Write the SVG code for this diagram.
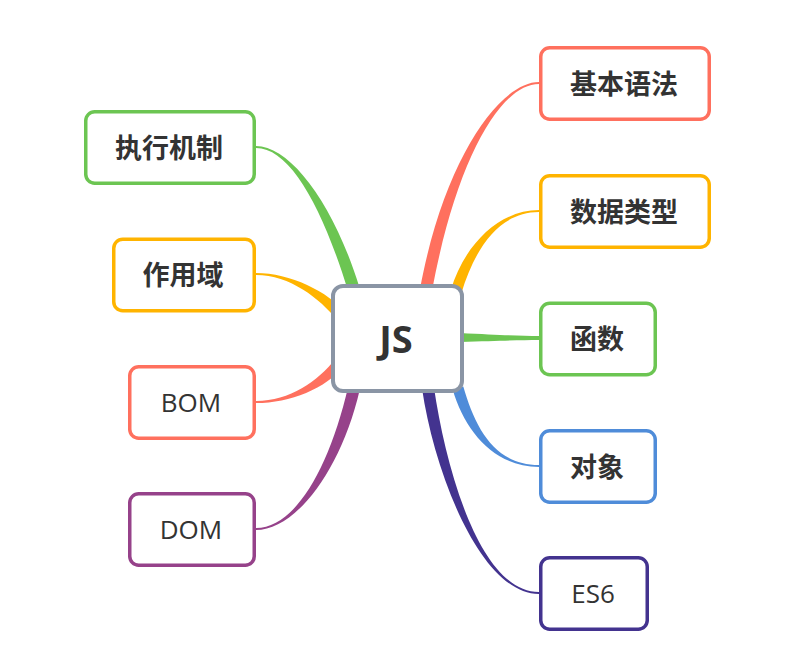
<svg xmlns="http://www.w3.org/2000/svg" width="794" height="656" viewBox="0 0 794 656">
<style>
.box{fill:#fff;stroke-width:3.5}
.zh{font-family:"Noto Sans CJK SC","Open Sans",sans-serif;font-size:27px;font-weight:bold;fill:#333;text-anchor:middle}
.en{font-family:"Open Sans","Liberation Sans",sans-serif;font-size:26px;fill:#333;text-anchor:middle}
.red{stroke:#FF705E}.orange{stroke:#FFB400}.green{stroke:#6CC552}.blue{stroke:#4F8CD9}.navy{stroke:#43338F}.purple{stroke:#96428A}
</style>
<rect width="794" height="656" fill="#fff"/>
<g id="connectors">
<path fill="#FF705E" d="M539,82 C500,82 444,159 420,289 L432,291 C456,161 500,84 539,84 Z"/>
<path fill="#FFB400" d="M539,210 C500,210 464.7,243.4 450.7,290.4 L461.3,293.6 C475.3,246.6 500,212 539,212 Z"/>
<path fill="#6CC552" d="M460,333 C500,335 520,336 539,336 L539,340 C520,340 500,341 460,342 Z"/>
<path fill="#4F8CD9" d="M539,465 C495,465 475.3,428.5 463.3,386.5 L452.7,389.5 C464.7,431.5 495,467 539,467 Z"/>
<path fill="#43338F" d="M539,592 C480,592 445.9,469.1 433.9,387.1 L422.1,388.9 C434.1,470.9 480,594 539,594 Z"/>
<path fill="#6CC552" d="M256,146 C290,146 333.7,203.2 359.7,288.2 L348.3,291.8 C322.3,206.8 290,148 256,148 Z"/>
<path fill="#FFB400" d="M256,273 C290,273 328.3,291.5 346.3,313.5 L337.7,320.5 C319.7,298.5 290,275 256,275 Z"/>
<path fill="#FF705E" d="M256,401 C290,401 317.7,381.6 335.7,358.6 L344.3,365.4 C326.3,388.4 290,403 256,403 Z"/>
<path fill="#96428A" d="M256,528 C295,528 329.2,468.6 348.2,386.6 L359.8,389.4 C340.8,471.4 295,530 256,530 Z"/>
</g>
<g id="root">
<rect x="333" y="286" width="129" height="105" rx="10" fill="#fff" stroke="#8A95A5" stroke-width="4"/>
<text x="396" y="353" font-family="'Open Sans','Liberation Sans',sans-serif" font-size="38" font-weight="bold" fill="#333" text-anchor="middle">JS</text>
</g>
<g id="n-jibenyufa"><rect class="box red" x="540.75" y="47.75" width="168.5" height="71.5" rx="9"/><text class="zh" x="624" y="93.5">基本语法</text></g>
<g id="n-shujuleixing"><rect class="box orange" x="540.75" y="175.75" width="168.5" height="71.5" rx="9"/><text class="zh" x="624" y="221.5">数据类型</text></g>
<g id="n-hanshu"><rect class="box green" x="540.75" y="303.25" width="114.5" height="71.5" rx="9"/><text class="zh" x="597" y="349">函数</text></g>
<g id="n-duixiang"><rect class="box blue" x="540.75" y="430.75" width="114.5" height="71.5" rx="9"/><text class="zh" x="597" y="476.5">对象</text></g>
<g id="n-es6"><rect class="box navy" x="540.75" y="557.75" width="106.5" height="71.5" rx="9"/><text class="en" x="593" y="602.5">ES6</text></g>
<g id="n-zhixingjizhi"><rect class="box green" x="85.75" y="111.75" width="168.5" height="71.5" rx="9"/><text class="zh" x="169" y="157.5">执行机制</text></g>
<g id="n-zuoyongyu"><rect class="box orange" x="113.75" y="239.25" width="140.5" height="71.5" rx="9"/><text class="zh" x="183" y="285">作用域</text></g>
<g id="n-bom"><rect class="box red" x="129.75" y="366.75" width="124.5" height="71.5" rx="9"/><text class="en" x="191" y="411.5">BOM</text></g>
<g id="n-dom"><rect class="box purple" x="129.75" y="493.75" width="124.5" height="71.5" rx="9"/><text class="en" x="191" y="538.5">DOM</text></g>
</svg>
